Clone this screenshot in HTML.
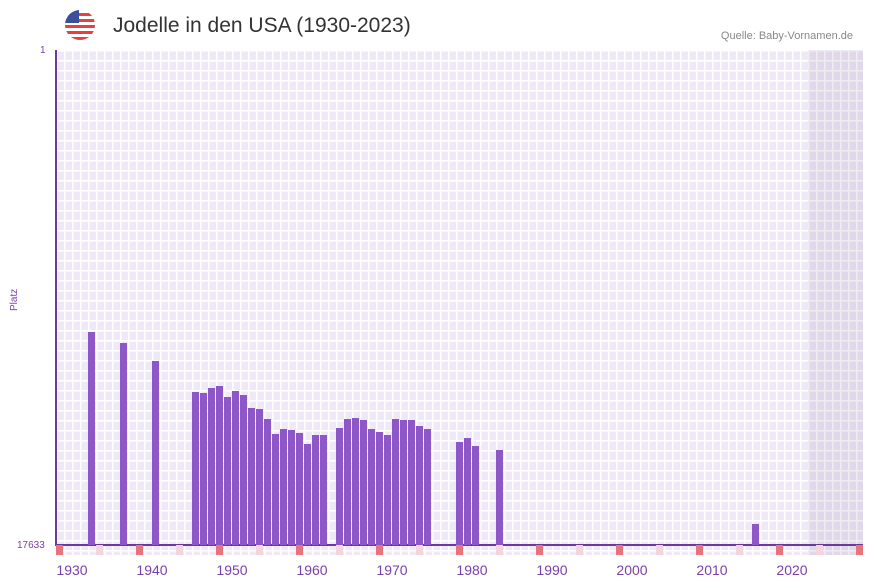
<!DOCTYPE html>
<html><head><style>
body{margin:0;width:873px;height:587px;background:#fff;font-family:"Liberation Sans",sans-serif;position:relative;overflow:hidden}
.t{position:absolute;left:113px;top:14px;font-size:21px;color:#333}
.src{position:absolute;right:20px;top:30px;font-size:11px;color:#888}
.grid{position:absolute;left:56px;top:50px;width:807px;height:505px;background-color:#eee8f9;
background-image:linear-gradient(90deg,#fff 1.5px,transparent 1.5px),linear-gradient(#fff 1.5px,transparent 1.5px);
background-size:8px 10px}
.b{position:absolute;width:7px;background:#8e57c8;bottom:42px}
.m{position:absolute;top:545px;width:7px;height:10px}
.yl{position:absolute;color:#7b3fa8;font-size:10px}
.xl{position:absolute;top:562px;color:#7b3fa8;font-size:14px;width:50px;text-align:center}
</style></head><body>
<svg style="position:absolute;left:65px;top:10px" width="30" height="30" viewBox="0 0 30 30">
<defs><clipPath id="c"><circle cx="15" cy="15" r="15"/></clipPath></defs>
<g clip-path="url(#c)"><rect width="30" height="30" fill="#fff"/>
<rect y="3" width="30" height="3" fill="#e84040"/><rect y="9" width="30" height="3" fill="#e84040"/><rect y="15" width="30" height="3" fill="#e84040"/><rect y="21" width="30" height="3" fill="#e84040"/><rect y="27" width="30" height="3" fill="#e84040"/>
<rect width="14" height="13" fill="#3a4e9c"/></g></svg>
<div class="t">Jodelle in den USA (1930-2023)</div>
<div class="src">Quelle: Baby-Vornamen.de</div>
<div class="grid"></div>
<div style="position:absolute;left:808px;top:50px;width:55px;height:505px;background:rgba(120,100,140,0.12)"></div>
<div style="position:absolute;left:55px;top:50px;width:1.5px;height:496px;background:#6a3a9a"></div>
<div style="position:absolute;left:55px;top:544px;width:808px;height:1.5px;background:#6a3a9a"></div>
<div class="yl" style="left:40px;top:45px">1</div>
<div class="yl" style="left:17px;top:540px">17633</div>
<div class="yl" style="left:9px;transform:rotate(-90deg);transform-origin:left top;top:311px">Platz</div>
<div id="bars"></div>
<div class="xl" style="left:47px">1930</div><div class="xl" style="left:127px">1940</div><div class="xl" style="left:207px">1950</div><div class="xl" style="left:287px">1960</div><div class="xl" style="left:367px">1970</div><div class="xl" style="left:447px">1980</div><div class="xl" style="left:527px">1990</div><div class="xl" style="left:607px">2000</div><div class="xl" style="left:687px">2010</div><div class="xl" style="left:767px">2020</div>
<script>
var d={1932:332,1936:343,1940:361,1945:392,1946:393,1947:388,1948:386,1949:397,1950:391,1951:395,1952:408,1953:409,1954:419,1955:434,1956:429,1957:430,1958:433,1959:444,1960:435,1961:435,1963:428,1964:419,1965:418,1966:420,1967:429,1968:432,1969:435,1970:419,1971:420,1972:420,1973:426,1974:429,1978:442,1979:438,1980:446,1983:450,2015:524};
var h='';for(var y in d){var x=56+(y-1928)*8;h+='<div class="b" style="left:'+x+'px;top:'+d[y]+'px;height:'+(545-d[y])+'px"></div>';}
for(var k=0;k<=100;k+=5){h+='<div class="m" style="left:'+(56+k*8)+'px;background:'+(k%10?'#f5d5dc':'#e8737a')+'"></div>';}
document.getElementById('bars').innerHTML=h;
</script>
</body></html>
